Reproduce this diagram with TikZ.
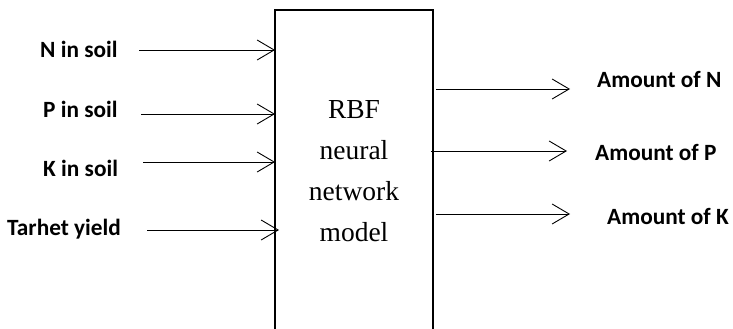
\documentclass[tikz,border=0pt]{standalone}
\usepackage{fontspec}
\setmainfont{Liberation Serif}
\newfontfamily\lblfamily{Carlito}
\usepackage{tikz}
\usetikzlibrary{arrows.meta}
\tikzstyle{arrow} = [line width=0.9pt,-{Straight Barb[length=17pt,width=20pt,line width=0.9pt]}]
\tikzstyle{lbl} = [inner sep=0pt, anchor=base west, font=\lblfamily\bfseries\fontsize{23.3}{28}\selectfont]
\tikzstyle{model} = [rectangle, draw, line width=2.2pt, outer sep=0pt, anchor=north west, minimum width=158pt, minimum height=340pt]

\begin{document}
\begin{tikzpicture}[x=1pt,y=-1pt]
\clip (0,0) rectangle (733,329);

\node [model] (box) at (275,10) {};
\node [align=center, inner sep=0pt, anchor=north, font=\fontsize{27.5}{41}\selectfont] (rbf) at (354,100) {RBF\\neural\\network\\model};

\node [lbl] (nsoil) at (40,57) {N in soil};
\node [lbl] (psoil) at (43,117) {P in soil};
\node [lbl] (ksoil) at (43,176) {K in soil};
\node [lbl] (yield) at (7,235) {Tarhet yield};

\node [lbl] (namt) at (597,87) {Amount of N};
\node [lbl] (pamt) at (595,160) {Amount of P};
\node [lbl] (kamt) at (607,224) {Amount of K};

\coordinate (nin) at (139,50);
\coordinate (pin) at (141,114);
\coordinate (kin) at (143,162);
\coordinate (yin) at (147,230);

\coordinate (nout) at (570,89);
\coordinate (pout) at (567,151);
\coordinate (kout) at (570,214);

\draw [arrow] (nin) -- (nin -| box.west);
\draw [arrow] (pin) -- (pin -| box.west);
\draw [arrow] (kin) -- (kin -| box.west);
\draw [arrow] (yin) -- ([xshift=4pt]yin -| box.west);

\draw [arrow] ([xshift=3pt]nout -| box.east) -- (nout);
\draw [arrow] ([xshift=-2pt]pout -| box.east) -- (pout);
\draw [arrow] ([xshift=3pt]kout -| box.east) -- (kout);
\end{tikzpicture}
\end{document}
